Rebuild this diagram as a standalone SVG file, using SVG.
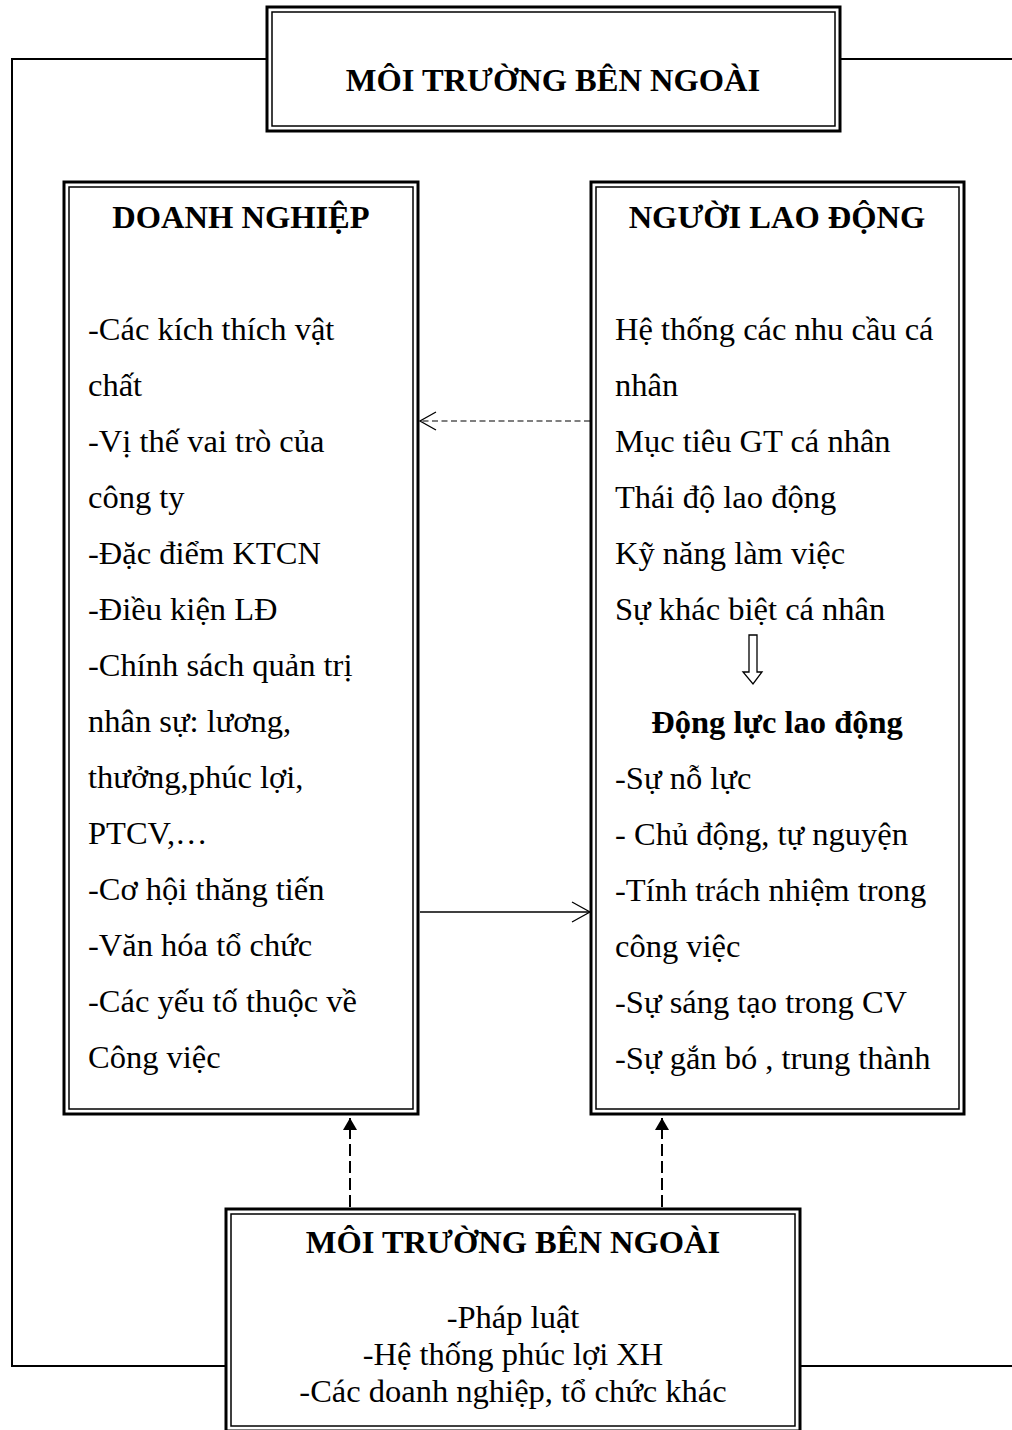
<svg xmlns="http://www.w3.org/2000/svg" width="1012" height="1430" viewBox="0 0 1012 1430">
<style>
.outer{fill:#fff;stroke:#000;stroke-width:3}
.inner{fill:none;stroke:#000;stroke-width:1.5}
.t{font-family:"Liberation Serif","Times New Roman",serif;font-size:32.5px;fill:#000}
.b{font-weight:bold}
.c{text-anchor:middle}
.ln{fill:none;stroke:#000;stroke-width:2}
</style>
<defs>
<marker id="filled" viewBox="0 0 12 14" refX="12" refY="7" markerWidth="12" markerHeight="14" markerUnits="userSpaceOnUse" orient="auto">
<path d="M0,0 L12,7 L0,14 Z" fill="#000"/>
</marker>
</defs>
<g id="connectors">
<polyline class="ln" points="267,59 12,59 12,1366 226,1366"/>
<line class="ln" x1="840" y1="59" x2="1012" y2="59"/>
<line class="ln" x1="800" y1="1366" x2="1012" y2="1366"/>
<line x1="590" y1="421" x2="420" y2="421" stroke="#000" stroke-width="1.2" stroke-dasharray="6,3.5"/>
<polyline points="436,412 420,421 436,430" fill="none" stroke="#000" stroke-width="1.3"/>
<line x1="420" y1="912" x2="589" y2="912" stroke="#000" stroke-width="1.3"/>
<polyline points="572,902 590,912 572,922" fill="none" stroke="#000" stroke-width="1.3"/>
<line x1="350" y1="1207" x2="350" y2="1118" stroke="#000" stroke-width="2" stroke-dasharray="12,5" marker-end="url(#filled)"/>
<line x1="662" y1="1207" x2="662" y2="1118" stroke="#000" stroke-width="2" stroke-dasharray="12,5" marker-end="url(#filled)"/>
</g>
<g id="top-env">
<rect class="outer" x="267" y="7" width="573" height="124"/>
<rect class="inner" x="272" y="12" width="563" height="114"/>
<text class="t b c" x="553" y="91">MÔI TRƯỜNG BÊN NGOÀI</text>
</g>
<g id="doanh-nghiep">
<rect class="outer" x="64" y="182" width="354" height="932"/>
<rect class="inner" x="69" y="187" width="344" height="922"/>
<text class="t b c" x="241" y="228">DOANH NGHIỆP</text>
<text class="t" x="88" y="340">-Các kích thích vật</text>
<text class="t" x="88" y="396">chất</text>
<text class="t" x="88" y="452">-Vị thế vai trò của</text>
<text class="t" x="88" y="508">công ty</text>
<text class="t" x="88" y="564">-Đặc điểm KTCN</text>
<text class="t" x="88" y="620">-Điều kiện LĐ</text>
<text class="t" x="88" y="676">-Chính sách quản trị</text>
<text class="t" x="88" y="732">nhân sự: lương,</text>
<text class="t" x="88" y="788">thưởng,phúc lợi,</text>
<text class="t" x="88" y="844">PTCV,…</text>
<text class="t" x="88" y="900">-Cơ hội thăng tiến</text>
<text class="t" x="88" y="956">-Văn hóa tổ chức</text>
<text class="t" x="88" y="1012">-Các yếu tố thuộc về</text>
<text class="t" x="88" y="1068">Công việc</text>
</g>
<g id="nguoi-lao-dong">
<rect class="outer" x="591" y="182" width="373" height="932"/>
<rect class="inner" x="596" y="187" width="363" height="922"/>
<text class="t b c" x="777" y="228">NGƯỜI LAO ĐỘNG</text>
<text class="t" x="615" y="340">Hệ thống các nhu cầu cá</text>
<text class="t" x="615" y="396">nhân</text>
<text class="t" x="615" y="452">Mục tiêu GT cá nhân</text>
<text class="t" x="615" y="508">Thái độ lao động</text>
<text class="t" x="615" y="564">Kỹ năng làm việc</text>
<text class="t" x="615" y="620">Sự khác biệt cá nhân</text>
<polygon points="749,635 757,635 757,672 762,672 753,684 743,672 749,672" fill="#fff" stroke="#000" stroke-width="1.3"/>
<text class="t b c" x="777" y="733">Động lực lao động</text>
<text class="t" x="615" y="789">-Sự nỗ lực</text>
<text class="t" x="615" y="845">- Chủ động, tự nguyện</text>
<text class="t" x="615" y="901">-Tính trách nhiệm trong</text>
<text class="t" x="615" y="957">công việc</text>
<text class="t" x="615" y="1013">-Sự sáng tạo trong CV</text>
<text class="t" x="615" y="1069">-Sự gắn bó , trung thành</text>
</g>
<g id="bottom-env">
<rect class="outer" x="226" y="1209" width="574" height="222"/>
<rect class="inner" x="231" y="1214" width="564" height="212"/>
<text class="t b c" x="513" y="1253">MÔI TRƯỜNG BÊN NGOÀI</text>
<text class="t c" x="513" y="1328">-Pháp luật</text>
<text class="t c" x="513" y="1365">-Hệ thống phúc lợi XH</text>
<text class="t c" x="513" y="1402">-Các doanh nghiệp, tổ chức khác</text>
</g>
</svg>
